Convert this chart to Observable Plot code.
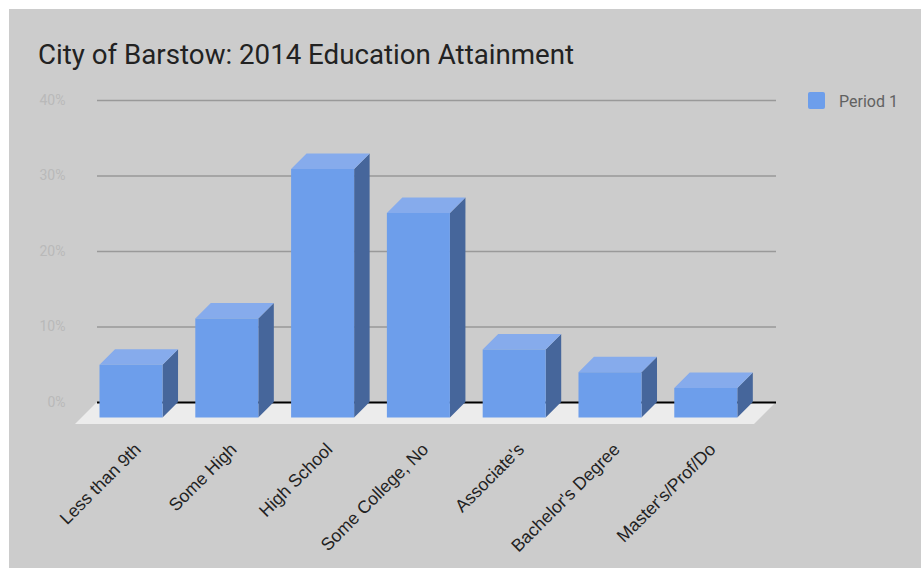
<!DOCTYPE html>
<html>
<head>
<meta charset="utf-8">
<script src="https://cdn.jsdelivr.net/npm/d3@7"></script>
<script src="https://cdn.jsdelivr.net/npm/@observablehq/plot@0.6"></script>
<style>
  html, body { margin: 0; padding: 0; background: #ffffff; }
  #wrap { position: relative; width: 921px; height: 569px; overflow: hidden; background: #ffffff; }
  #bg { position: absolute; left: 9px; top: 9px; width: 912px; height: 559px; background: #cccccc; }
  #title { position: absolute; left: 38px; top: 40.9px; font-family: Roboto, sans-serif; font-size: 27.7px; line-height: 28px; color: #222222; white-space: nowrap; }
  #legend { position: absolute; left: 808px; top: 92px; height: 17px; }
  #legend .sw { position: absolute; left: 0; top: 0; width: 17px; height: 17px; border-radius: 2px; background: #6d9eeb; }
  #legend .lb { position: absolute; left: 31px; top: 2px; font-family: Roboto, sans-serif; font-size: 16px; line-height: 16px; color: #616161; white-space: nowrap; }
  #chart { position: absolute; left: 0; top: 0; }
</style>
</head>
<body>
<div id="wrap">
  <div id="bg"></div>
  <div id="chart"></div>
  <div id="title">City of Barstow: 2014 Education Attainment</div>
  <div id="legend"><div class="sw"></div><div class="lb">Period 1</div></div>
</div>
<script>
// ---- data ----
const categories = ["Less than 9th", "Some High", "High School", "Some College, No", "Associate's", "Bachelor's Degree", "Master's/Prof/Do"];
const values = [7.0, 13.1, 32.9, 27.1, 9.0, 6.0, 3.9];
const yTicks = [0, 10, 20, 30, 40];
const seriesName = "Period 1";

const data = categories.map((c, i) => ({category: c, value: values[i]}));

// 3D styling
const D = 15.5;       // bar depth (px)
const FD = 22;        // floor depth (px)
const frontColor = "#6d9eeb";
const topColor = "#86abec";
const sideColor = "#46669b";
const floorColor = "#ececec";

function poly(g, pts, fill) {
  g.append("path").attr("d", "M" + pts.map(p => p.join(",")).join("L") + "Z").attr("fill", fill);
}

const chart = Plot.plot({
  width: 921,
  height: 569,
  marginLeft: 97,
  marginRight: 145,
  marginTop: 100,
  marginBottom: 167,
  style: {background: "transparent", overflow: "visible"},
  x: {domain: categories, type: "band", paddingInner: 0.342, paddingOuter: 0.215, align: 0.437, round: false, axis: null},
  y: {domain: [0, 40], axis: null},
  marks: [
    Plot.axisY({ticks: yTicks, tickSize: 0, tickPadding: 32, tickFormat: d => d + "%", label: null, color: "#b9b9b9", fontSize: 14, fontFamily: "Roboto"}),
    Plot.ruleY(yTicks.filter(d => d > 0), {stroke: "#999999", strokeWidth: 1.3}),
    // floor
    Plot.ruleY([0], {
      render(index, scales) {
        const [r0, r1] = scales.x.range();
        const y0 = scales.y(0);
        const g = d3.create("svg:g");
        poly(g, [[r0, y0], [r1, y0], [r1 - FD, y0 + FD], [r0 - FD, y0 + FD]], floorColor);
        return g.node();
      }
    }),
    Plot.ruleY([0], {stroke: "#000000", strokeWidth: 2}),
    // 3D bars
    Plot.barY(data, {
      x: "category",
      y: "value",
      render(index, scales) {
        const x = scales.x, y = scales.y, bw = x.bandwidth();
        const y0 = y(0);
        const g = d3.create("svg:g");
        for (const i of index) {
          const d = data[i];
          const xl = x(d.category), xr = xl + bw, yt = y(d.value);
          poly(g, [[xr, yt], [xr, y0], [xr - D, y0 + D], [xr - D, yt + D]], sideColor);
          poly(g, [[xl, yt], [xr, yt], [xr - D, yt + D], [xl - D, yt + D]], topColor);
          poly(g, [[xl - D, yt + D], [xr - D, yt + D], [xr - D, y0 + D], [xl - D, y0 + D]], frontColor);
        }
        return g.node();
      }
    }),
    // category labels
    Plot.text(categories, {
      x: d => d,
      frameAnchor: "bottom",
      rotate: -45,
      textAnchor: "end",
      dx: -5,
      dy: 48,
      fontSize: 17.7,
      fontFamily: "Liberation Sans, Arial, sans-serif",
      fill: "#222222"
    })
  ]
});
document.getElementById("chart").appendChild(chart);
</script>
</body>
</html>
